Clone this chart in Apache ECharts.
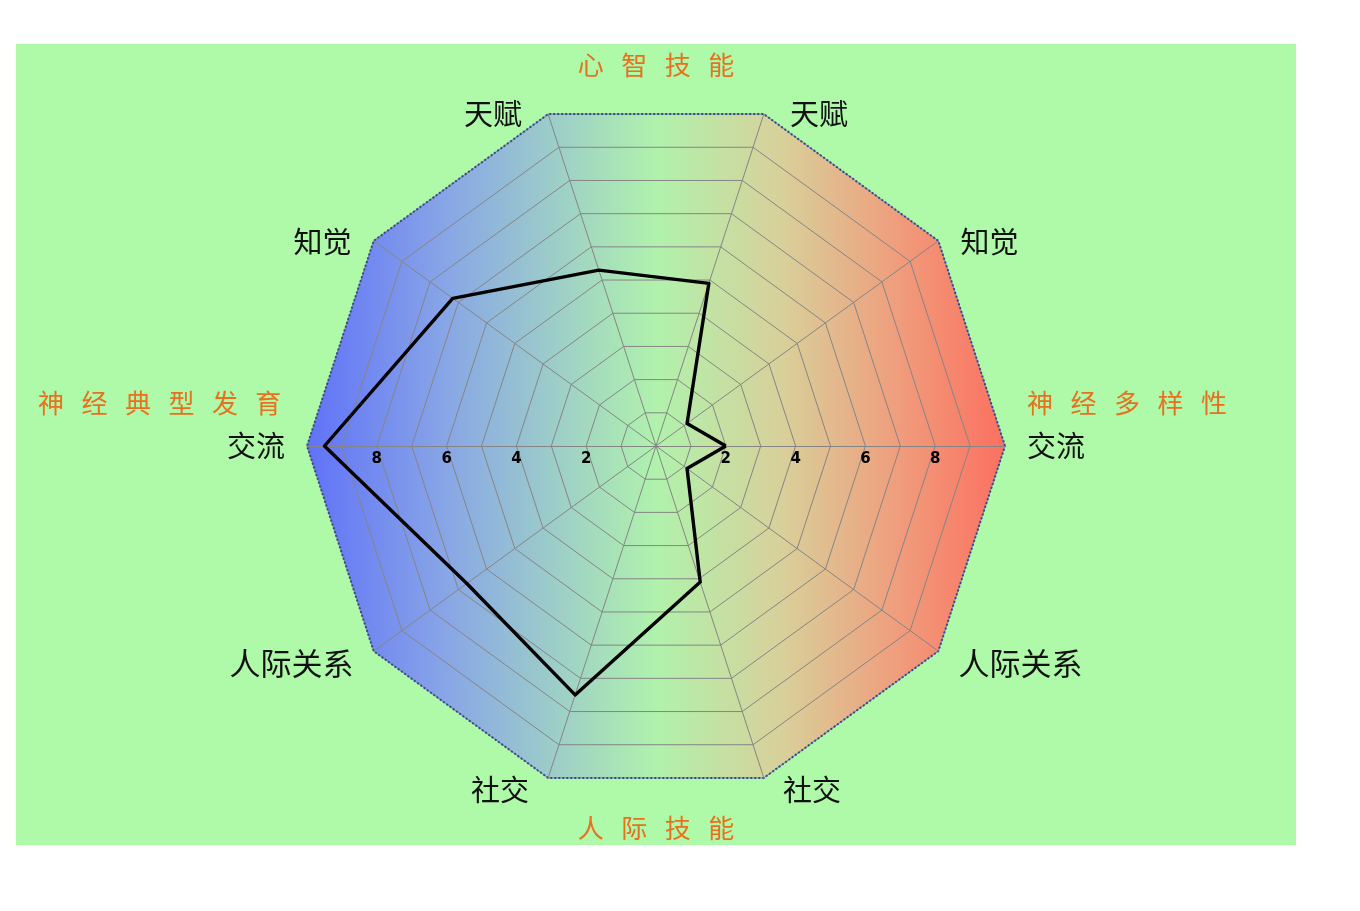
<!DOCTYPE html>
<html>
<head>
<meta charset="utf-8">
<script src="https://cdn.jsdelivr.net/npm/echarts@6/dist/echarts.min.js"></script>
<style>
html,body{margin:0;padding:0;background:#fff;}
#chart{width:1360px;height:911px;}
</style>
</head>
<body>
<div id="chart"></div>
<script>
// Axis names (counter-clockwise from the right)
const indicatorNames = ['交流', '知觉', '天赋', '天赋', '知觉', '交流', '人际关系', '社交', '社交', '人际关系'];
const axisMax = 10;
// Series values
const profileValues = [2.0, 1.1, 4.9, 5.3, 7.2, 9.5, 6.7, 7.5, 4.1, 1.1];
// Tick labels shown on the horizontal axis
const tickLabels = ['2', '4', '6', '8'];
// Group titles
const groupTop = '心   智   技   能';
const groupBottom = '人   际   技   能';
const groupLeft = '神   经   典   型   发   育';
const groupRight = '神   经   多   样   性';

const CX = 656, CY = 446, R = 349;
const nameFont = '"Noto Sans CJK SC", sans-serif';
const orange = '#e8701e';

const chart = echarts.init(document.getElementById('chart'), null, {renderer: 'canvas'});

const grad = {
  type: 'linear', x: CX - R, y: 0, x2: CX + R, y2: 0, global: true,
  colorStops: [
    {offset: 0, color: '#6072f8'},
    {offset: 0.2, color: '#88a6e6'},
    {offset: 0.5, color: '#b0f2ac'},
    {offset: 0.68, color: '#d8d09a'},
    {offset: 0.85, color: '#f09c7c'},
    {offset: 1, color: '#fc7060'}
  ]
};

// per-name label nudges (rich styles)
const nameStyle = {
  '交流': 'a', '知觉': 'b', '天赋': 'c', '社交': 'd', '人际关系': 'e'
};
const richBase = {color: '#111', fontSize: 29, fontFamily: nameFont};
const rich = {
  a: Object.assign({}, richBase, {padding: [0, 12, 0, 12]}),
  b: Object.assign({}, richBase, {padding: [14, 14, 0, 14]}),
  c: Object.assign({}, richBase, {padding: [18, 23, 0, 23]}),
  d: Object.assign({}, richBase, {padding: [6, 16, 0, 16]}),
  e: Object.assign({}, richBase, {padding: [12, 12, 0, 12], fontSize: 31})
};

const option = {
  backgroundColor: '#ffffff',
  animation: false,
  graphic: [
    {type: 'rect', left: 16, top: 44, z: -10, shape: {width: 1280, height: 801}, style: {fill: '#aefaa8'}},
    {type: 'text', x: CX, y: 65, z: 10, style: {text: groupTop, fill: orange, font: '26px ' + nameFont, textAlign: 'center', textVerticalAlign: 'middle'}},
    {type: 'text', x: CX, y: 828, z: 10, style: {text: groupBottom, fill: orange, font: '26px ' + nameFont, textAlign: 'center', textVerticalAlign: 'middle'}},
    {type: 'text', x: 38, y: 403, z: 10, style: {text: groupLeft, fill: orange, font: '26px ' + nameFont, textAlign: 'left', textVerticalAlign: 'middle'}},
    {type: 'text', x: 1027, y: 403, z: 10, style: {text: groupRight, fill: orange, font: '26px ' + nameFont, textAlign: 'left', textVerticalAlign: 'middle'}}
  ],
  radar: [
    {
      center: [CX, CY], radius: R, startAngle: 0, shape: 'polygon', splitNumber: 10,
      indicator: indicatorNames.map(n => ({name: n, min: 0, max: axisMax})),
      axisName: {
        color: '#111', fontSize: 29, fontFamily: nameFont,
        formatter: name => '{' + (nameStyle[name] || 'a') + '|' + name + '}',
        rich: rich
      },
      nameGap: 10,
      axisLine: {lineStyle: {color: '#858585', width: 1}},
      splitLine: {lineStyle: {color: '#858585', width: 1}},
      splitArea: {show: true, areaStyle: {color: [grad]}},
      axisTick: {show: false},
      axisLabel: {show: false}
    },
    {
      center: [CX, CY], radius: R, startAngle: 0, shape: 'polygon', splitNumber: 5,
      indicator: [{name: '', min: 0, max: axisMax}, {name: '', min: 0, max: axisMax}],
      axisName: {show: false},
      axisLine: {show: false},
      splitLine: {show: false},
      splitArea: {show: false},
      axisTick: {show: false},
      axisLabel: {
        show: true, color: '#000', fontWeight: 'bold', fontSize: 15, fontFamily: 'DejaVu Sans',
        margin: 0, verticalAlign: 'top', align: 'center', padding: [6, 0, 0, 0],
        formatter: v => tickLabels.indexOf(String(v)) >= 0 ? String(v) : ''
      }
    },
    {
      center: [CX, CY], radius: R, startAngle: 0, shape: 'polygon', splitNumber: 1,
      indicator: indicatorNames.map(() => ({name: '', min: 0, max: axisMax})),
      axisName: {show: false},
      axisLine: {show: false},
      splitArea: {show: false},
      splitLine: {lineStyle: {color: '#34489a', width: 2, type: [2, 2]}},
      axisTick: {show: false},
      axisLabel: {show: false}
    }
  ],
  series: [{
    type: 'radar', radarIndex: 0, symbol: 'none', z: 5,
    lineStyle: {color: '#000', width: 3.4},
    data: [{value: profileValues}]
  }]
};
chart.setOption(option);
</script>
</body>
</html>
